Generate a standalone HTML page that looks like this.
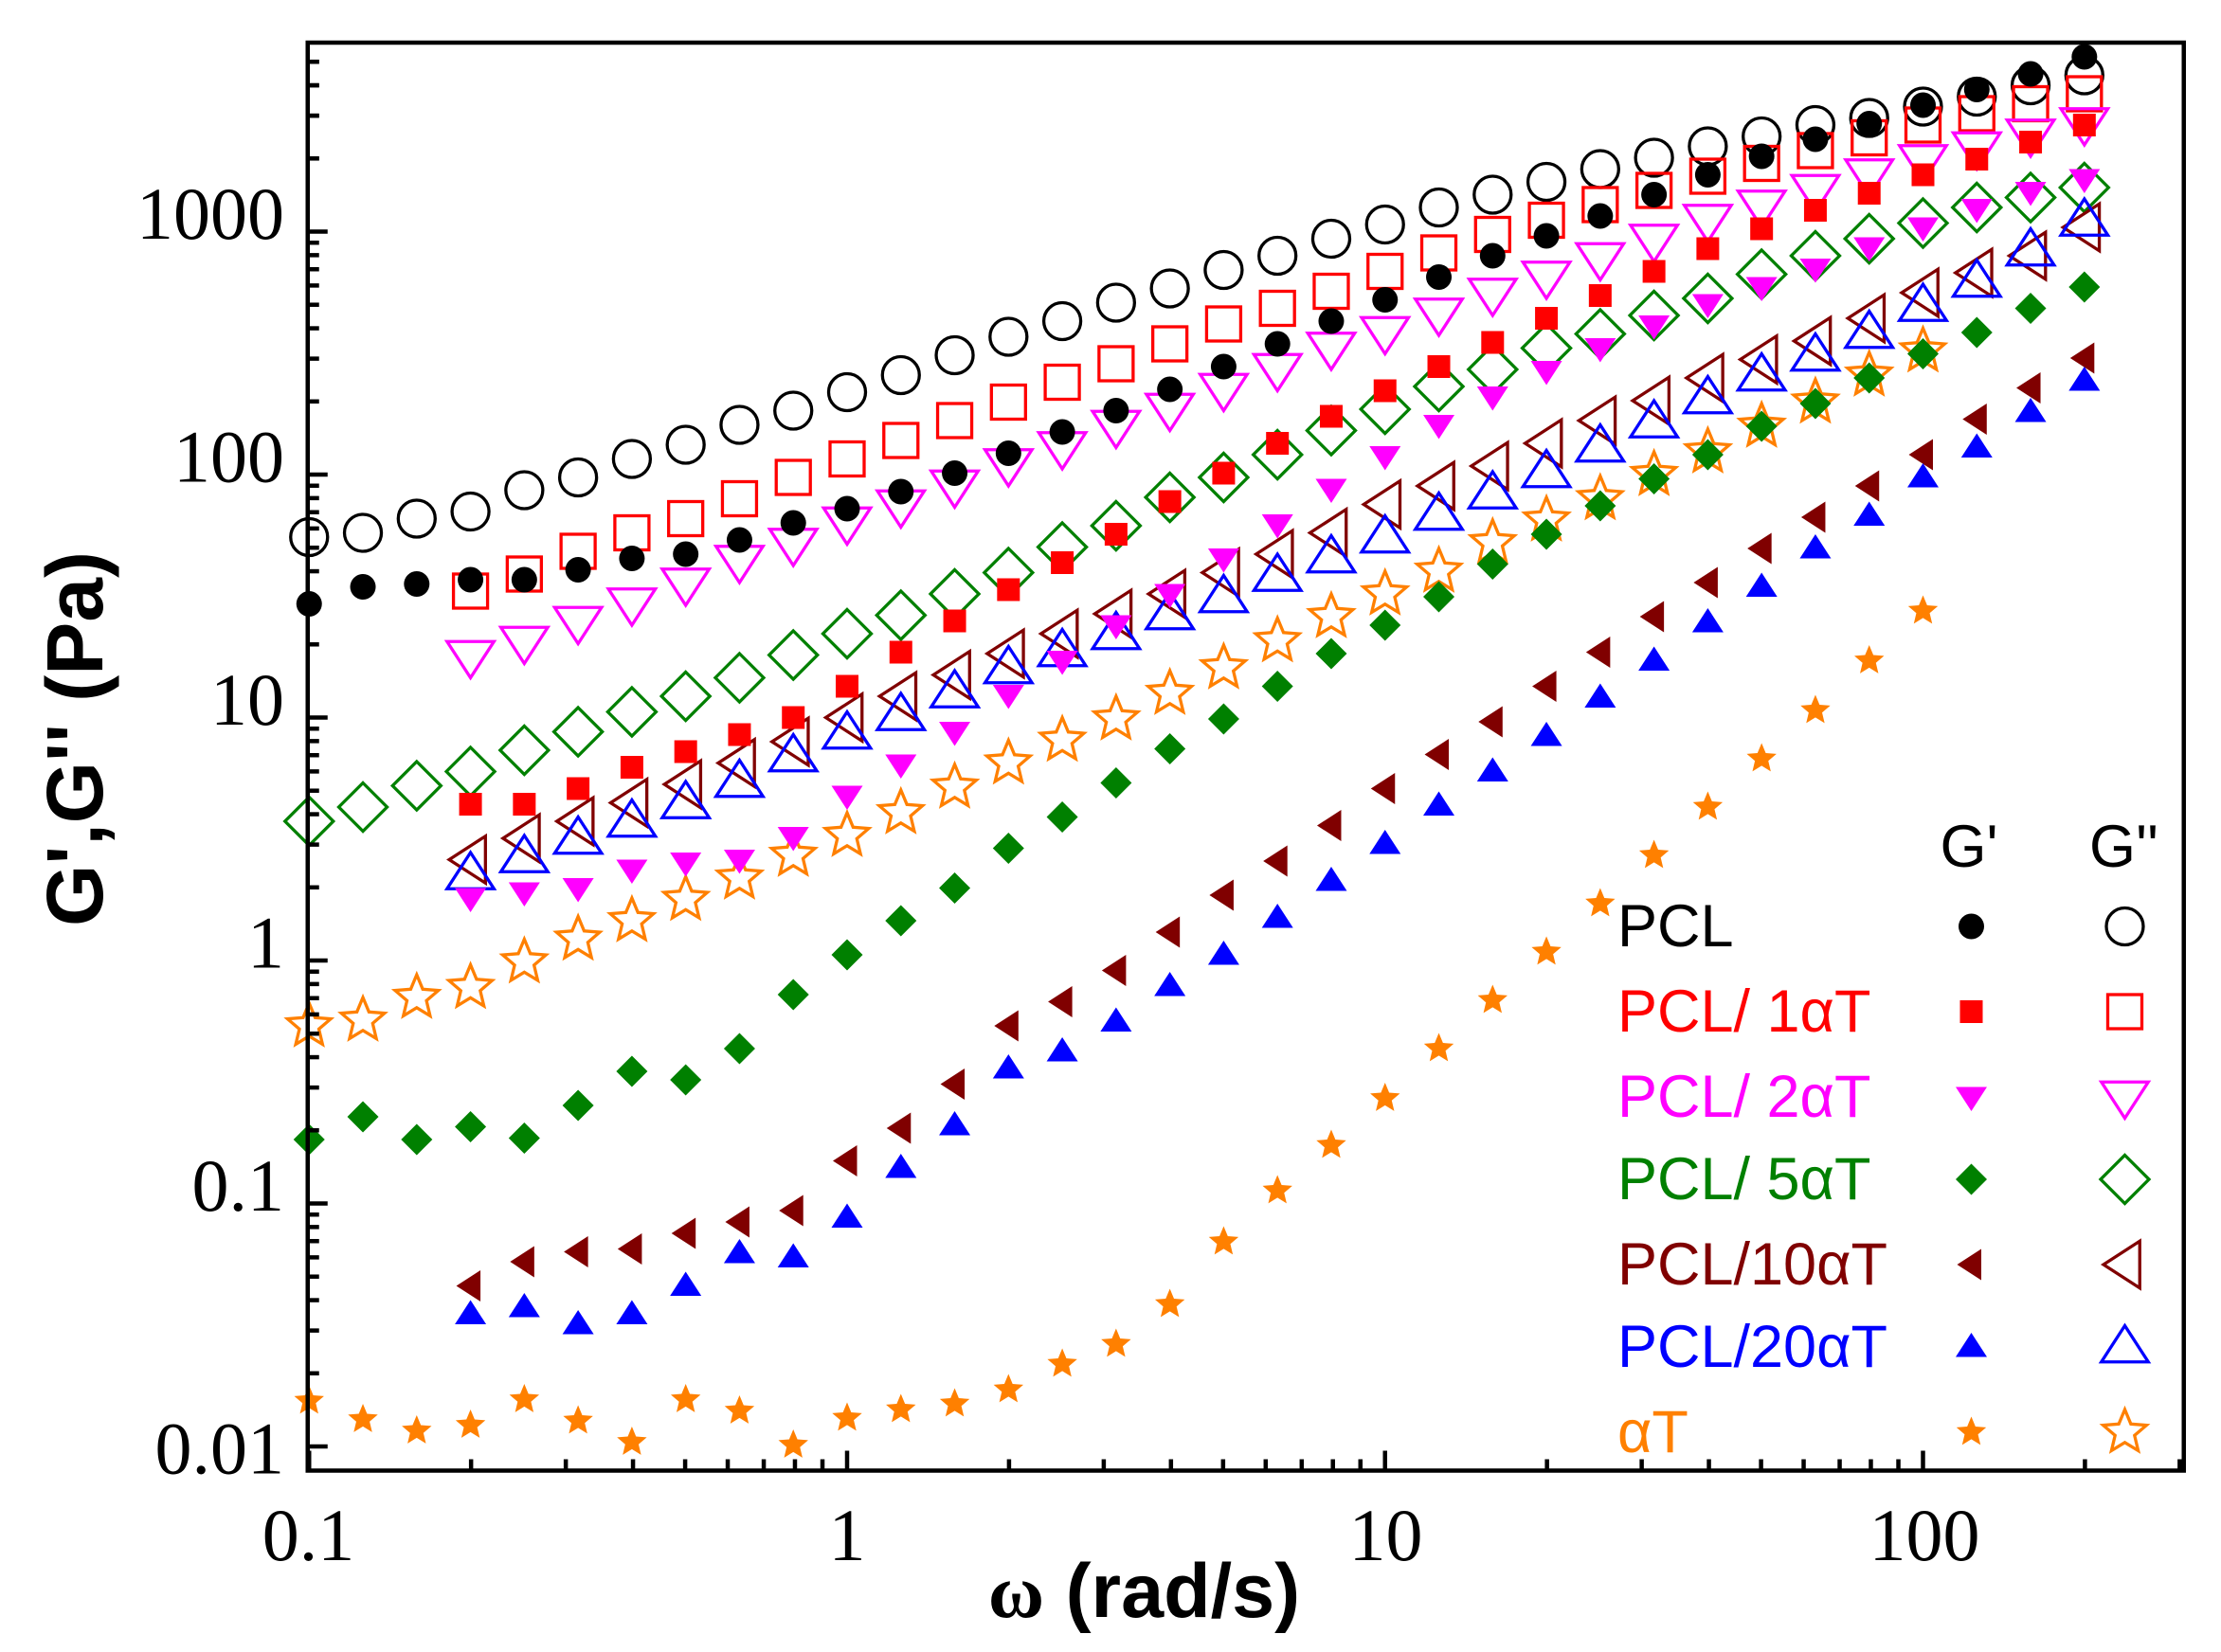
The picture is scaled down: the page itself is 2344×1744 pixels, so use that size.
<!DOCTYPE html>
<html><head><meta charset="utf-8"><style>
html,body{margin:0;padding:0;background:#fff;}
svg{display:block}
</style></head><body>
<svg id="s" xmlns="http://www.w3.org/2000/svg" width="2344" height="1744" viewBox="0 0 1562.67 1162.67">
<rect width="1562.67" height="1162.67" fill="#fff"/>
<g id="data"></g>
<g id="ax" stroke="#000" stroke-width="3" fill="none">
<rect x="216.5" y="30" width="1320" height="1005"/>
</g>
<g font-family="Liberation Serif, serif" font-size="52" fill="#000" text-anchor="end">
<text x="200" y="168">1000</text>
<text x="200" y="339">100</text>
<text x="200" y="510">10</text>
<text x="200" y="681">1</text>
<text x="200" y="852">0.1</text>
<text x="200" y="1037">0.01</text>
</g>
<g font-family="Liberation Serif, serif" font-size="52" fill="#000" text-anchor="middle">
<text x="217" y="1098">0.1</text>
<text x="596" y="1098">1</text>
<text x="975" y="1098">10</text>
<text x="1354" y="1098">100</text>
</g>
<text x="805" y="1138" font-family="Liberation Sans, sans-serif" font-weight="bold" font-size="54" text-anchor="middle"><tspan font-family="Liberation Serif, serif">ω</tspan> (rad/s)</text>
<text transform="translate(72,520) rotate(-90)" font-family="Liberation Sans, sans-serif" font-weight="bold" font-size="56" text-anchor="middle">G',G'' (Pa)</text>
<g font-family="Liberation Sans, sans-serif" font-size="42">
<text x="1365" y="610">G'</text>
<text x="1470" y="610">G''</text>
<text x="1138" y="666" fill="#000">PCL</text>
<text x="1138" y="726" fill="#ff0000">PCL/ 1αT</text>
<text x="1138" y="786" fill="#ff00ff">PCL/ 2αT</text>
<text x="1138" y="844" fill="#008000">PCL/ 5αT</text>
<text x="1138" y="904" fill="#800000">PCL/10αT</text>
<text x="1138" y="962" fill="#0000ff">PCL/20αT</text>
<text x="1138" y="1022" fill="#ff8000">αT</text>
</g>
<g id="leg"></g>
</svg>
<script>
var NS="http://www.w3.org/2000/svg";
function el(p,t,a){var e=document.createElementNS(NS,t);for(var k in a)e.setAttribute(k,a[k]);p.appendChild(e);return e;}
var ax=document.getElementById("ax");
for(var d=-2;d<=3;d++){for(var m=1;m<=9;m++){var v=m*Math.pow(10,d);var y=163+171*(3-Math.log10(v));if(y<31||y>1034)continue;var L=m==1?14:8;el(ax,"line",{x1:216.5,y1:y,x2:216.5+L,y2:y});}}
for(var m=2;m<=9;m++){var y=163-171*Math.log10(m);if(y>31)el(ax,"line",{x1:216.5,y1:y,x2:224.5,y2:y});}
for(var d=-1;d<=2;d++){for(var m=1;m<=9;m++){var w=m*Math.pow(10,d);var x=217.5+378.5*Math.log10(w/0.1);if(x>1535)continue;var L=m==1?14:8;el(ax,"line",{x1:x,y1:1035,x2:x,y2:1035-L});}}
function sym(g,type,x,y,col,filled){
 var f=filled?col:"none",st=col,sw=filled?0:2.2;
 var a={fill:f,stroke:st,"stroke-width":sw};
 var r;
 switch(type){
 case"c":r=filled?9:13;a.cx=x;a.cy=y;a.r=r;el(g,"circle",a);break;
 case"s":r=filled?8:12;a.x=x-r;a.y=y-r;a.width=2*r;a.height=2*r;el(g,"rect",a);break;
 case"d":r=filled?10:15;a.points=[x+","+(y+r),(x-r*1.1)+","+(y-r*0.7),(x+r*1.1)+","+(y-r*0.7)].join(" ");el(g,"polygon",a);break;
 case"u":r=filled?10:15;a.points=[x+","+(y-r),(x-r*1.1)+","+(y+r*0.7),(x+r*1.1)+","+(y+r*0.7)].join(" ");el(g,"polygon",a);break;
 case"m":r=filled?11:17;a.points=[x+","+(y-r),(x+r)+","+y,x+","+(y+r),(x-r)+","+y].join(" ");el(g,"polygon",a);break;
 case"l":r=filled?10:15;a.points=[(x-r)+","+y,(x+r*0.7)+","+(y-r*1.1),(x+r*0.7)+","+(y+r*1.1)].join(" ");el(g,"polygon",a);break;
 case"t":r=filled?11:16;var p=[];for(var i=0;i<10;i++){var rr=i%2?r*0.45:r;var an=-Math.PI/2+i*Math.PI/5;p.push((x+rr*Math.cos(an))+","+(y+rr*Math.sin(an)));}a.points=p.join(" ");el(g,"polygon",a);break;
 }
}
var S=[
["c","#000",0,[378,375,365,360,345,336,323,313,299,289,276,264,250,237,226,213,203,190,180,168,158,146,137,128,119,111,103,96,88,83,75,68,60,53],false],
["s","#ff0000",3,[416,404,388,375,365,351,336,323,310,296,283,269,256,242,228,217,205,191,178,165,155,144,134,124,115,106,97,88,80,73,66],false],
["d","#ff00ff",3,[462,452,438,425,411,395,383,368,356,342,327,315,300,288,274,260,245,234,221,207,195,182,169,155,145,134,123,113,104,95,87],false],
["m","#008000",0,[578,568,553,543,528,515,501,490,477,461,446,433,418,403,385,370,350,336,320,303,288,272,260,245,235,222,210,193,180,168,157,146,139,132],false],
["l","#800000",3,[605,590,578,565,552,537,522,505,490,475,460,446,432,418,403,390,375,355,342,328,312,296,282,266,253,240,224,206,192,180,160],false],
["u","#0000ff",3,[615,603,590,578,565,550,532,516,503,487,470,458,446,432,420,405,392,378,362,347,332,314,297,280,264,250,234,215,198,176,155],false],
["t","#ff8000",0,[722,718,702,695,677,661,648,633,618,602,588,572,554,537,521,506,488,470,451,434,418,402,382,366,351,334,318,300,283,264,247],false],
["c","#000",0,[425,413,411,408,408,401,393,390,380,368,358,346,333,319,304,289,274,258,242,226,211,195,180,166,152,137,123,110,98,87,74,63,52,40],true],
["s","#ff0000",3,[566,566,555,540,529,517,505,483,459,437,415,396,376,353,333,312,293,275,258,241,224,208,191,175,161,148,136,123,112,100,88],true],
["d","#ff00ff",3,[632,628,625,612,607,605,589,560,538,515,489,465,440,418,393,369,344,321,299,279,261,245,229,214,202,189,174,160,147,135,126],true],
["m","#008000",0,[802,786,802,793,801,778,754,760,738,700,672,648,625,597,575,551,527,506,483,460,440,420,397,376,356,337,320,300,284,266,249,234,217,202],true],
["l","#800000",3,[905,888,881,879,868,860,852,817,794,763,722,705,683,656,630,606,581,555,531,508,483,459,434,410,386,364,342,320,295,273,252],true],
["u","#0000ff",3,[925,920,932,925,905,882,885,857,822,792,752,740,719,694,672,646,620,594,567,543,518,491,465,438,413,386,363,336,315,290,268],true],
["t","#ff8000",0,[986,999,1007,1003,985,1000,1015,985,993,1017,998,992,988,978,960,946,918,874,838,806,773,738,704,670,636,602,568,534,500,465,430],true]
];
var g=document.getElementById("data");
S.forEach(function(s){s[3].forEach(function(y,i){var k=s[2]+i;var x=217.5+37.85*k;sym(g,s[0],x,y,s[1],s[4]);});});
var lg=document.getElementById("leg");
var LY=[652,712,772,830,890,948,1008];
for(var i=0;i<7;i++){sym(lg,S[i][0],1495,LY[i],S[i][1],false);sym(lg,S[i+7][0],1387,LY[i],S[i+7][1],true);}
</script>
</body></html>
